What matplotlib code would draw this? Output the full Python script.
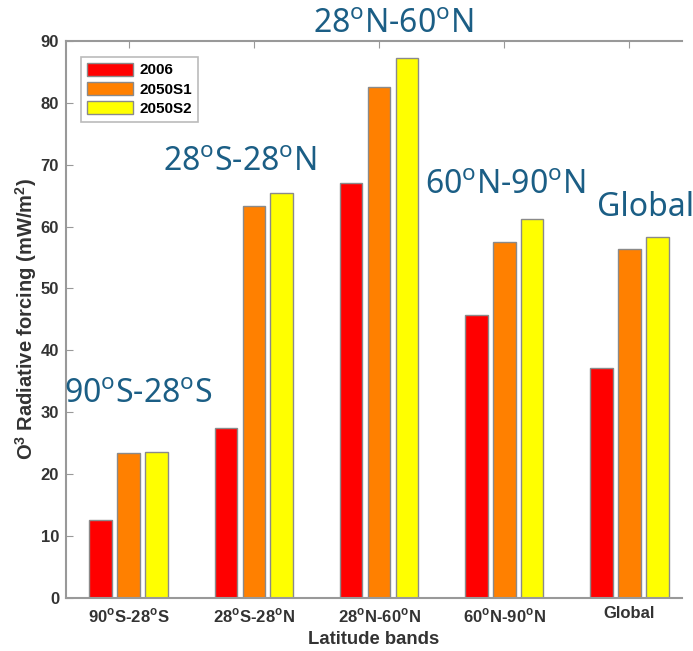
import numpy as np
import matplotlib
matplotlib.use('Agg')
import matplotlib.pyplot as plt

# Data
bands = ['90$^{\\mathbf{o}}$S-28$^{\\mathbf{o}}$S', '28$^{\\mathbf{o}}$S-28$^{\\mathbf{o}}$N',
         '28$^{\\mathbf{o}}$N-60$^{\\mathbf{o}}$N', '60$^{\\mathbf{o}}$N-90$^{\\mathbf{o}}$N', 'Global']
series = ['2006', '2050S1', '2050S2']
vals_2006 = [12.6, 27.5, 67.0, 45.7, 37.2]
vals_2050s1 = [23.4, 63.3, 82.6, 57.5, 56.4]
vals_2050s2 = [23.6, 65.4, 87.2, 61.2, 58.3]
colors = ['#ff0000', '#ff8000', '#ffff00']

big_labels = ['90$^{\\mathsf{o}}$S-28$^{\\mathsf{o}}$S', '28$^{\\mathsf{o}}$S-28$^{\\mathsf{o}}$N',
              '28$^{\\mathsf{o}}$N-60$^{\\mathsf{o}}$N', '60$^{\\mathsf{o}}$N-90$^{\\mathsf{o}}$N', 'Global']
big_x = [1.08, 1.89, 3.11, 4.01, 5.13]
big_y = [32.8, 70.3, 92.6, 66.7, 63.0]

plt.rcParams['font.family'] = 'Liberation Sans'
plt.rcParams['mathtext.fontset'] = 'custom'
plt.rcParams['mathtext.rm'] = 'Liberation Sans'
plt.rcParams['mathtext.bf'] = 'Liberation Sans:bold'
plt.rcParams['mathtext.sf'] = 'Noto Sans'

fig = plt.figure(figsize=(6.93, 6.51), dpi=100)
ax = fig.add_axes([0.0952, 0.0814, 0.889, 0.856])

x = np.arange(1, len(bands) + 1)
step = 0.223
width = 0.18
for i, (name, vals) in enumerate(zip(series, [vals_2006, vals_2050s1, vals_2050s2])):
    ax.bar(x + (i - 1) * step, vals, width, color=colors[i], edgecolor='#8a8a8a',
           linewidth=1, label=name, zorder=2)

ax.set_xlim(0.5, 5.42)
ax.set_ylim(0, 90)
ax.set_yticks(range(0, 91, 10))
ax.set_xticks(x)
ax.set_xticklabels(bands, fontsize=12, fontweight='bold', color='#333333')
for t in ax.get_yticklabels():
    t.set_fontsize(12)
    t.set_fontweight('bold')
    t.set_color('#333333')

ax.tick_params(axis='both', direction='in', length=5, color='#999999')
ax.tick_params(axis='x', top=True, pad=6)
ax.tick_params(axis='y', pad=5)
for s in ['left', 'top', 'bottom']:
    ax.spines[s].set_color('#999999')
    ax.spines[s].set_linewidth(1.5)
ax.spines['right'].set_visible(False)

ax.set_ylabel('O$^{\\mathbf{3}}$ Radiative forcing (mW/m$^{\\mathbf{2}}$)', fontsize=14.5,
              fontweight='bold', color='#333333', labelpad=1.5)
ax.set_xlabel('Latitude bands', fontsize=13.3, fontweight='bold', color='#333333', labelpad=4)

leg = ax.legend(loc='upper left', bbox_to_anchor=(0.012, 0.985), prop={'weight': 'bold', 'size': 11},
                fancybox=False, edgecolor='#aaaaaa', handlelength=3.0, handleheight=0.9,
                labelspacing=0.3, borderpad=0.4, handletextpad=0.4)
leg.get_frame().set_linewidth(1.2)

for lab, bx, by in zip(big_labels, big_x, big_y):
    ax.text(bx, by, lab, fontsize=23, color='#1b5e85', ha='center', va='center',
            family='Noto Sans', clip_on=False)

fig.savefig('out.png', dpi=100)
plt.close(fig)
